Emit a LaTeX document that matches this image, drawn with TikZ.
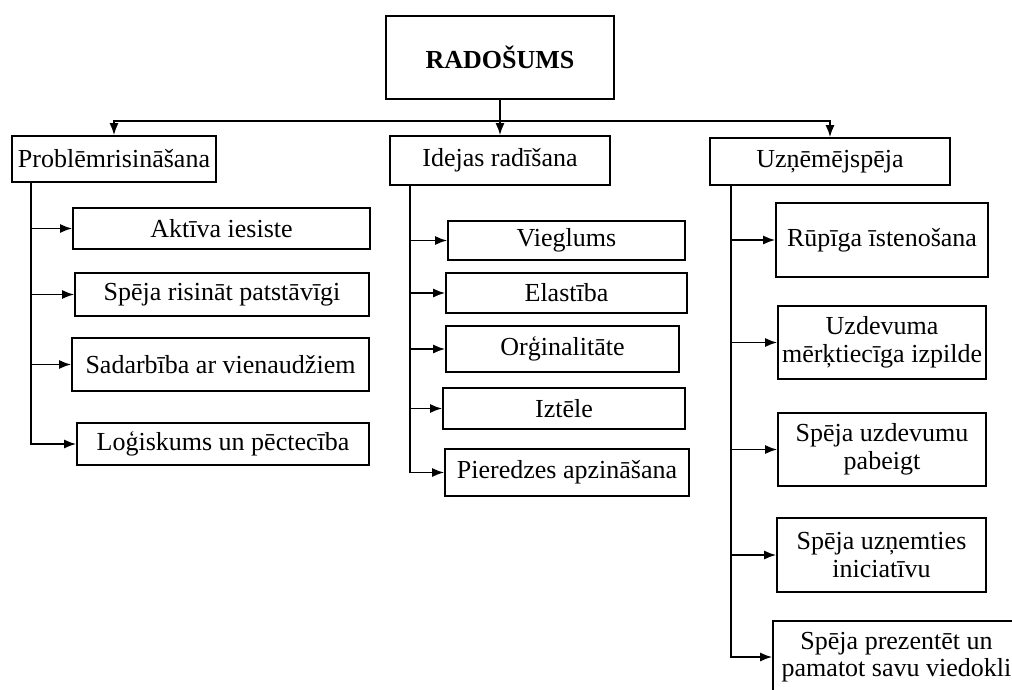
\documentclass[tikz,border=0pt]{standalone}
\usepackage{fontspec}
\setmainfont{Liberation Serif}
\usetikzlibrary{arrows.meta}
\tikzset{
  box/.style={draw, line width=1.6pt, inner sep=0pt, align=center,
    font=\fontsize{26}{27.5}\selectfont},
  arr/.style={line width=1.8pt, -{Latex[length=12pt,width=9pt]}},
}
\begin{document}
\begin{tikzpicture}[x=1pt,y=-1pt]
\useasboundingbox (0,0) rectangle (1012,689);
\clip (0,0) rectangle (1012,689);
% top
\node[box, minimum width=228pt, minimum height=83pt] (top) at (500,57.5) {\textbf{RADOŠUMS}};
% level 1
\node[box, minimum width=204pt, minimum height=46pt] (prob) at (114,159) {Problēmrisināšana};
\node[box, minimum width=220pt, minimum height=49pt] (idej) at (500,160.5) {Idejas radīšana};
\node[box, minimum width=240pt, minimum height=47pt] (uzn) at (830,161.5) {Uzņēmējspēja};
% left children
\node[box, minimum width=297pt, minimum height=41pt] (akt) at (221.5,228.5) {Aktīva iesiste};
\node[box, minimum width=294pt, minimum height=43pt] (spr) at (222,294.5) {Spēja risināt patstāvīgi};
\node[box, minimum width=297pt, minimum height=53pt] (sad) at (220.5,364.5) {Sadarbība ar vienaudžiem};
\node[box, minimum width=292pt, minimum height=42pt] (log) at (223,444) {Loģiskums un pēctecība};
% middle children
\node[box, minimum width=237pt, minimum height=39pt] (vie) at (566.5,240.5) {Vieglums};
\node[box, minimum width=241pt, minimum height=40pt] (ela) at (566.5,293) {Elastība};
\node[box, minimum width=233pt, minimum height=46pt] (org) at (562.5,349) {Orģinalitāte};
\node[box, minimum width=242pt, minimum height=41pt] (izt) at (564,408.5) {Iztēle};
\node[box, minimum width=244pt, minimum height=47pt] (pie) at (567,472.5) {Pieredzes apzināšana};
% right children
\node[box, minimum width=212pt, minimum height=74pt] (rup) at (882,240) {Rūpīga īstenošana};
\node[box, minimum width=208pt, minimum height=73pt] (uzd) at (882,342.5) {Uzdevuma\\mērķtiecīga izpilde};
\node[box, minimum width=208pt, minimum height=73pt] (pab) at (882,449.5) {Spēja uzdevumu\\pabeigt};
\node[box, minimum width=209pt, minimum height=74pt] (ini) at (881.5,555) {Spēja uzņemties\\iniciatīvu};
\node[box, minimum width=247pt, minimum height=72pt] (pre) at (896.5,657) {Spēja prezentēt un\\pamatot savu viedokli};
% top connectors
\coordinate (hub) at (500,121);
\draw[arr] (top.south) -- (idej.north);
\draw[arr] (hub) -| (prob.north);
\draw[arr] (hub) -| (uzn.north);
% trunks
\coordinate (tl) at ([xshift=20pt]prob.south west);
\coordinate (tm) at ([xshift=21pt]idej.south west);
\coordinate (tr) at ([xshift=22pt]uzn.south west);
\foreach \n in {akt,spr,sad,log} \draw[arr] (tl) |- (\n.west);
\foreach \n in {vie,ela,org,izt,pie} \draw[arr] (tm) |- (\n.west);
\foreach \n in {rup,uzd,pab,ini,pre} \draw[arr] (tr) |- (\n.west);
\end{tikzpicture}
\end{document}
